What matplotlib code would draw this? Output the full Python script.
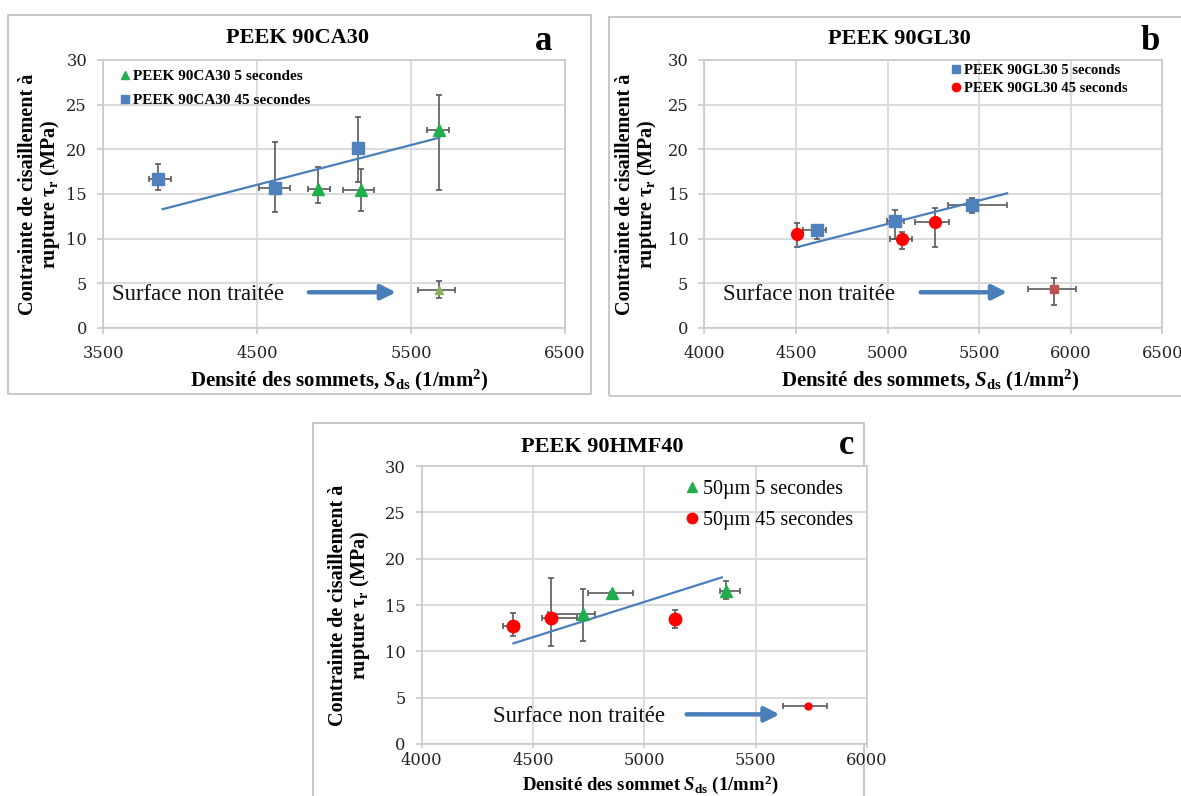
import matplotlib
matplotlib.use('Agg')
import matplotlib.pyplot as plt
from matplotlib.patches import Rectangle
from matplotlib.lines import Line2D

plt.rcParams['font.family'] = ['Liberation Serif', 'DejaVu Serif']
plt.rcParams['mathtext.fontset'] = 'custom'
plt.rcParams['mathtext.rm'] = 'Liberation Serif:bold'
plt.rcParams['mathtext.it'] = 'Liberation Serif:italic:bold'
plt.rcParams['mathtext.bf'] = 'Liberation Serif:bold'

# ---------------- data ----------------
# Panel a : PEEK 90CA30
a_sq_x = [3858, 4615, 5157]
a_sq_y = [16.7, 15.7, 20.15]
a_sq_yerr = [[1.3, 2.7, 3.85], [1.7, 5.1, 3.45]]
a_sq_xerr = [[58, 104, 35], [83, 97, 41]]
a_tri_x = [4898, 5177, 5684]
a_tri_y = [15.6, 15.4, 22.2]
a_tri_yerr = [[1.6, 2.3, 6.8], [2.46, 2.4, 3.9]]
a_tri_xerr = [[65, 120, 82], [78, 83, 65]]
a_ref_x = [5684]
a_ref_y = [4.2]
a_ref_yerr = [[0.8], [1.1]]
a_ref_xerr = [[141], [102]]
a_trend_x = [3887, 5684]
a_trend_y = [13.3, 21.3]

# Panel b : PEEK 90GL30
b_sq_x = [4616, 5042, 5459]
b_sq_y = [10.94, 11.98, 13.74]
b_sq_yerr = [[0.94, 2.0, 0.84], [0.56, 1.22, 0.76]]
b_sq_xerr = [[76, 45, 128], [46, 46, 194]]
b_ci_x = [4507, 5080, 5259]
b_ci_y = [10.5, 9.93, 11.9]
b_ci_yerr = [[1.4, 1.08, 2.8], [1.2, 0.77, 1.5]]
b_ci_xerr = [[25, 67, 109], [25, 51, 76]]
b_ref_x = [5910]
b_ref_y = [4.37]
b_ref_yerr = [[1.77], [1.23]]
b_ref_xerr = [[144], [118]]
b_trend_x = [4515, 5653]
b_trend_y = [9.1, 15.08]

# Panel c : PEEK 90HMF40
c_tri_x = [4723, 4856, 5366]
c_tri_y = [14.0, 16.26, 16.55]
c_tri_yerr = [[2.9, 0.15, 0.95], [2.7, 0.15, 1.05]]
c_tri_xerr = [[154, 110, 26], [55, 95, 64]]
c_ci_x = [4409, 4582, 5139]
c_ci_y = [12.73, 13.6, 13.45]
c_ci_yerr = [[1.08, 3.0, 0.97], [1.37, 4.35, 1.01]]
c_ci_xerr = [[42, 43, 20], [29, 114, 20]]
c_ref_x = [5736]
c_ref_y = [4.15]
c_ref_xerr = [[112], [84]]
c_trend_x = [4412, 5348]
c_trend_y = [10.86, 17.98]

y_ticks = [0, 5, 10, 15, 20, 25, 30]
a_xticks = [3500, 4500, 5500, 6500]
b_xticks = [4000, 4500, 5000, 5500, 6000, 6500]
c_xticks = [4000, 4500, 5000, 5500, 6000]

titles = ['PEEK 90CA30', 'PEEK 90GL30', 'PEEK 90HMF40']
letters = ['a', 'b', 'c']
ylabel = 'Contrainte de cisaillement à\nrupture τ$_\\mathrm{r}$ (MPa)'
xlabel_ab = 'Densité des sommets, $S_\\mathrm{ds}$ (1/mm$^\\mathrm{2}$)'
xlabel_c = 'Densité des sommet $S_\\mathrm{ds}$ (1/mm$^\\mathrm{2}$)'
note = 'Surface non traitée'

# ---------------- styles ----------------
W, H = 1181, 796
GREEN = '#1fae4b'
BLUE = '#4f81bd'
RED = '#ff0000'
ERR = '#5a5a5a'
GRID = '#d9d9d9'
TREND = '#4a7ebb'

fig = plt.figure(figsize=(W / 100, H / 100), dpi=100)


def px_axes(x0, y0, x1, y1):
    return fig.add_axes([x0 / W, 1 - y1 / H, (x1 - x0) / W, (y1 - y0) / H])


def panel_box(x0, y0, x1, y1):
    fig.add_artist(Rectangle((x0 / W, 1 - y1 / H), (x1 - x0) / W, (y1 - y0) / H,
                             transform=fig.transFigure, fill=False,
                             ec='#c4c4c4', lw=1.3, zorder=0))


def style(ax, xlim, xticks, xpad=8, xlen=4.5):
    ax.set_xlim(*xlim)
    ax.set_ylim(0, 30)
    ax.set_xticks(xticks)
    ax.set_yticks(y_ticks)
    ax.grid(True, color=GRID, lw=1.3)
    ax.set_axisbelow(True)
    for s in ax.spines.values():
        s.set_color('#c8c8c8')
        s.set_linewidth(1.2)
    ax.tick_params(length=4.5, width=1.2, color='#c8c8c8', labelsize=11.7,
                   labelcolor='#222222')
    ax.tick_params(axis='x', pad=xpad, length=xlen)
    ax.tick_params(axis='y', pad=7)
    for lab in ax.get_xticklabels() + ax.get_yticklabels():
        lab.set_family('DejaVu Serif')


def ebar(ax, x, y, xerr, yerr=None):
    ax.errorbar(x, y, xerr=xerr, yerr=yerr, fmt='none', ecolor=ERR,
                elinewidth=1.2, capsize=2, capthick=1.2, zorder=3)


def arrow(ax, x0, x1, y):
    ax.annotate('', xy=(x1, y), xytext=(x0, y),
                arrowprops=dict(arrowstyle='-|>', color=TREND, lw=3.2,
                                mutation_scale=22, shrinkA=0, shrinkB=0),
                zorder=5)


# panel frames
panel_box(8, 15, 591, 394)
panel_box(609, 17, 1200, 396)
panel_box(313, 423, 864, 820)

# ---------- panel a ----------
ax = px_axes(103, 60, 565, 328)
style(ax, (3500, 6500), a_xticks)
ebar(ax, a_sq_x, a_sq_y, a_sq_xerr, a_sq_yerr)
ebar(ax, a_tri_x, a_tri_y, a_tri_xerr, a_tri_yerr)
ebar(ax, a_ref_x, a_ref_y, a_ref_xerr, a_ref_yerr)
ax.plot(a_trend_x, a_trend_y, color=TREND, lw=1.6, zorder=4)
ax.plot(a_sq_x, a_sq_y, ls='none', marker='s', ms=9, color=BLUE, zorder=5)
ax.plot(a_tri_x, a_tri_y, ls='none', marker='^', ms=8, color=GREEN, zorder=5)
ax.plot(a_ref_x, a_ref_y, ls='none', marker='^', ms=6, color='#8db05a', zorder=5)
h1 = Line2D([], [], ls='none', marker='^', ms=6, color=GREEN, label='PEEK 90CA30 5 secondes')
h2 = Line2D([], [], ls='none', marker='s', ms=6, color=BLUE, label='PEEK 90CA30 45 secondes')
ax.legend(handles=[h1, h2], loc='upper left', bbox_to_anchor=(0.0377, 0.9646),
          frameon=False, prop=dict(family='Liberation Serif', weight='bold', size=11),
          handlelength=0.6, handletextpad=0.22, borderpad=0, borderaxespad=0,
          labelspacing=0.66)
ax.text(3556, 3.14, note, fontsize=16.4, va='baseline', ha='left', color='#111111')
arrow(ax, 4837, 5403, 4.0)
ax.set_ylabel(ylabel, fontsize=14.5, fontweight='bold', va='center', linespacing=1.05)
ax.yaxis.set_label_coords((40 - 103) / 462, 0.5)
ax.set_xlabel(xlabel_ab, fontsize=15, fontweight='bold', va='center')
ax.xaxis.set_label_coords((339 - 103) / 462, -(380 - 328) / 268)

# ---------- panel b ----------
ax = px_axes(704.4, 60, 1162.3, 328)
style(ax, (4000, 6500), b_xticks)
ebar(ax, b_sq_x, b_sq_y, b_sq_xerr, b_sq_yerr)
ebar(ax, b_ci_x, b_ci_y, b_ci_xerr, b_ci_yerr)
ebar(ax, b_ref_x, b_ref_y, b_ref_xerr, b_ref_yerr)
ax.plot(b_trend_x, b_trend_y, color=TREND, lw=1.6, zorder=4)
ax.plot(b_sq_x, b_sq_y, ls='none', marker='s', ms=9, color=BLUE, zorder=5)
ax.plot(b_ci_x, b_ci_y, ls='none', marker='o', ms=8.5, color=RED, zorder=5)
ax.plot(b_ref_x, b_ref_y, ls='none', marker='s', ms=5.5, color='#c0504d', zorder=5)
h1 = Line2D([], [], ls='none', marker='s', ms=6, color=BLUE, label='PEEK 90GL30 5 seconds')
h2 = Line2D([], [], ls='none', marker='o', ms=6, color=RED, label='PEEK 90GL30 45 seconds')
ax.legend(handles=[h1, h2], loc='upper left', bbox_to_anchor=(0.539, 0.985),
          frameon=False, prop=dict(family='Liberation Serif', weight='bold', size=10.5),
          handlelength=0.6, handletextpad=0.27, borderpad=0, borderaxespad=0,
          labelspacing=0.34)
ax.text(4100, 3.14, note, fontsize=16.4, va='baseline', ha='left', color='#111111')
arrow(ax, 5181, 5653, 4.0)
ax.set_ylabel(ylabel, fontsize=14.5, fontweight='bold', va='center', linespacing=1.05)
ax.yaxis.set_label_coords((637 - 704.4) / 457.9, 0.5)
ax.set_xlabel(xlabel_ab, fontsize=15, fontweight='bold', va='center')
ax.xaxis.set_label_coords((930 - 704.4) / 457.9, -(380 - 328) / 268)

# ---------- panel c ----------
ax = px_axes(421.7, 466, 867, 744)
style(ax, (4000, 6000), c_xticks, xpad=2.5, xlen=3)
ebar(ax, c_ci_x, c_ci_y, c_ci_xerr, c_ci_yerr)
ebar(ax, c_tri_x, c_tri_y, c_tri_xerr, c_tri_yerr)
ebar(ax, c_ref_x, c_ref_y, c_ref_xerr)
ax.plot(c_trend_x, c_trend_y, color=TREND, lw=1.6, zorder=4)
ax.plot(c_tri_x, c_tri_y, ls='none', marker='^', ms=8, color=GREEN, zorder=5)
ax.plot(c_ci_x, c_ci_y, ls='none', marker='o', ms=9, color=RED, zorder=5)
ax.plot(c_ref_x, c_ref_y, ls='none', marker='o', ms=5, color=RED, zorder=5)
h1 = Line2D([], [], ls='none', marker='^', ms=7, color=GREEN, label='50µm 5 secondes')
h2 = Line2D([], [], ls='none', marker='o', ms=7.5, color=RED, label='50µm 45 secondes')
ax.legend(handles=[h1, h2], loc='upper left', bbox_to_anchor=(0.594, 0.951),
          frameon=False, prop=dict(family='Liberation Serif', size=14.5),
          handlelength=0.6, handletextpad=0.25, borderpad=0, borderaxespad=0,
          labelspacing=0.6)
ax.text(4320, 2.4, note, fontsize=16.4, va='baseline', ha='left', color='#111111')
arrow(ax, 5190, 5608, 3.2)
ax.set_ylabel(ylabel, fontsize=14.5, fontweight='bold', va='center', linespacing=1.05)
ax.yaxis.set_label_coords((350 - 421.7) / 445.3, 0.5)
ax.set_xlabel(xlabel_c, fontsize=13.5, fontweight='bold', va='center')
ax.xaxis.set_label_coords((650 - 421.7) / 445.3, -(784.5 - 744) / 278)

# ---------- titles & letters ----------
for (tx, ty), t in zip([(297, 43), (899, 44), (602, 452)], titles):
    fig.text(tx / W, 1 - ty / H, t, fontsize=16, fontweight='bold', ha='center', va='baseline')
for (lx, ly), l in zip([(544, 50.5), (1150, 50.5), (847, 454)], letters):
    fig.text(lx / W, 1 - ly / H, l, fontsize=25, fontweight='bold', ha='center', va='baseline')

fig.savefig('out.png', dpi=100)
